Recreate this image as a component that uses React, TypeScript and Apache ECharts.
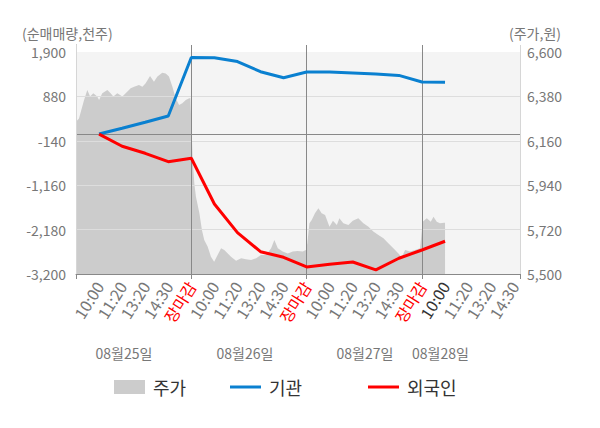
import React, { useEffect, useRef } from 'react';
import * as echarts from 'echarts';

// x-axis tick labels (one per slot, slot 1..19)
const xLabels = [
  '10:00', '11:20', '13:20', '14:30', '장마감',
  '10:00', '11:20', '13:20', '14:30', '장마감',
  '10:00', '11:20', '13:20', '14:30', '장마감',
  '10:00', '11:20', '13:20', '14:30',
];
const currentLabelSlot = 16;
const dayLabels = ['08월25일', '08월26일', '08월27일', '08월28일'];
const leftTicks = [-3200, -2180, -1160, -140, 880, 1900];
const rightTicks = [5500, 5720, 5940, 6160, 6380, 6600];
const xMax = 19.25;

// 기관 / 외국인 net buying (thousand shares) at each slot
const flowSlots = [1, 2, 3, 4, 5, 6, 7, 8, 9, 10, 11, 12, 13, 14, 15, 16];
const instValues = [15, 147, 285, 430, 1775, 1770, 1680, 1448, 1310, 1440, 1438, 1417, 1395, 1362, 1211, 1204];
const foreignValues = [15, -265, -427, -620, -542, -1591, -2250, -2687, -2816, -3039, -2977, -2924, -3107, -2839, -2648, -2448];

// 주가 (price) samples: slot position and price
const priceSlots = [
  0, 0.13, 0.23, 0.35, 0.49, 0.61, 0.75, 0.92, 1.0, 1.14, 1.36, 1.5, 1.62, 1.79, 2.01, 2.22, 2.37, 2.52, 2.73, 2.88,
  3.02, 3.21, 3.38, 3.53, 3.74, 3.89, 4.03, 4.18, 4.32, 4.47, 4.61, 4.76, 4.91, 4.96,
  5.0, 5.06, 5.13, 5.2, 5.35, 5.46, 5.56, 5.71, 5.85, 5.99, 6.14, 6.29, 6.43, 6.58, 6.72, 6.94, 7.16, 7.37, 7.59,
  7.81, 8.02, 8.24, 8.46, 8.6, 8.75, 8.96, 9.18, 9.4, 9.61, 9.83, 9.97,
  10.03, 10.12, 10.22, 10.36, 10.51, 10.65, 10.8, 10.99, 11.14, 11.31, 11.42, 11.59, 11.81, 12.0, 12.24, 12.46,
  12.68, 12.89, 13.11, 13.33, 13.54, 13.76, 13.98, 14.12, 14.27, 14.48, 14.7, 14.92,
  15.03, 15.21, 15.38, 15.5, 15.64, 15.78, 15.96, 16.0,
];
const prices = [
  6255, 6271, 6313, 6362, 6412, 6379, 6395, 6379, 6362, 6395, 6412, 6395, 6379, 6395, 6379, 6403, 6420, 6428, 6436, 6428,
  6445, 6481, 6453, 6478, 6497, 6494, 6478, 6428, 6371, 6337, 6346, 6362, 6371, 6371,
  6250, 6065, 5949, 5883, 5801, 5718, 5668, 5635, 5586, 5561, 5594, 5627, 5619, 5602, 5586, 5566, 5578, 5573, 5569,
  5578, 5594, 5594, 5627, 5668, 5627, 5611, 5602, 5611, 5614, 5611, 5619,
  5652, 5751, 5768, 5801, 5826, 5801, 5792, 5734, 5764, 5743, 5776, 5751, 5743, 5764, 5776, 5751,
  5734, 5710, 5693, 5677, 5652, 5627, 5602, 5583, 5619, 5611, 5619, 5627,
  5759, 5776, 5759, 5784, 5759, 5751, 5754, 5754,
];

const FONT = '"Noto Sans CJK KR", "Noto Sans", sans-serif';

export default function App() {
  const ref = useRef<HTMLDivElement>(null);

  useEffect(() => {
    document.body.style.margin = '0';
    if (!ref.current) return;
    const chart = echarts.init(ref.current, null, { renderer: 'svg' });

    const gridTop = 45;
    const gridBottom = 154;
    const plotTop = 52;
    const plotBottom = 428 - gridBottom;
    const extFrac = (plotTop - gridTop) / (plotBottom - plotTop);

    const lInterval = leftTicks[1] - leftTicks[0];
    const lShift = -leftTicks[0];
    const lSpan = leftTicks[leftTicks.length - 1] - leftTicks[0];
    const lMaxShifted = lSpan + lSpan * extFrac;

    const rInterval = rightTicks[1] - rightTicks[0];
    const rMin = rightTicks[0];
    const rTop = rightTicks[rightTicks.length - 1];
    const rMax = rTop + (rTop - rMin) * extFrac;

    const fmt = (n: number) => Math.round(n).toLocaleString('en-US');

    const areaColors: string[] = [];
    for (let i = 0; i < leftTicks.length; i++) areaColors.push(i < leftTicks.length - 1 ? '#f4f4f4' : '#ffffff');
    const gridLineColors: string[] = [];
    for (let i = 0; i < leftTicks.length + 1; i++) {
      gridLineColors.push(i === 0 ? '#888888' : i < leftTicks.length - 1 ? '#dddddd' : 'rgba(0,0,0,0)');
    }

    const labelStyle = { fontFamily: FONT, fontSize: 14, color: '#777777' };
    const legendText = { fontFamily: FONT, fontSize: 18, color: '#333333', padding: [0, 0, 0, 3] };

    chart.setOption({
      animation: false,
      textStyle: { fontFamily: FONT },
      grid: { left: 76, right: 80, top: gridTop, bottom: gridBottom, outerBoundsMode: 'none' },
      xAxis: [
        {
          type: 'value',
          position: 'bottom',
          min: 0,
          max: xMax,
          interval: 1,
          z: 5,
          axisLine: { show: true, lineStyle: { color: '#888888', width: 1 } },
          axisTick: { show: false },
          splitLine: { show: false },
          axisLabel: {
            ...labelStyle,
            fontSize: 16,
            rotate: 58,
            margin: 9,
            formatter: (v: number) => {
              const i = Math.round(v);
              if (Math.abs(v - i) > 1e-6 || i < 1 || i > xLabels.length) return '';
              return xLabels[i - 1];
            },
            color: (v: any) => {
              const i = Math.round(Number(v));
              if (i >= 1 && i <= xLabels.length && xLabels[i - 1] === '장마감') return '#ff0000';
              if (i === currentLabelSlot) return '#333333';
              return '#777777';
            },
          },
        },
        {
          type: 'value',
          position: 'bottom',
          min: 0,
          max: xMax,
          interval: 5,
          z: 5,
          axisLine: { show: false },
          axisLabel: { show: false },
          axisTick: { show: true, length: 5, lineStyle: { color: '#888888' } },
          splitLine: {
            show: true,
            lineStyle: { color: ['#888888', '#888888', '#888888', '#888888', '#d6d6d6'], width: 1 },
          },
        },
      ],
      yAxis: [
        {
          type: 'value',
          position: 'left',
          min: 0,
          max: lMaxShifted,
          interval: lInterval,
          z: 1,
          axisLine: { show: true, lineStyle: { color: '#888888' } },
          axisTick: { show: false },
          splitLine: { show: false },
          splitArea: { show: true, areaStyle: { color: areaColors } },
          axisLabel: {
            ...labelStyle,
            margin: 10,
            formatter: (v: number) => (v > lSpan + 0.5 ? '' : fmt(v - lShift)),
          },
        },
        {
          type: 'value',
          position: 'right',
          min: rMin,
          max: rMax,
          interval: rInterval,
          z: 5,
          axisLine: { show: true, lineStyle: { color: '#d6d6d6' } },
          axisTick: { show: false },
          splitLine: { show: false },
          axisLabel: {
            ...labelStyle,
            margin: 7,
            formatter: (v: number) => (v > rTop + 0.5 ? '' : fmt(v)),
          },
        },
        {
          type: 'value',
          position: 'left',
          min: 0,
          max: lMaxShifted,
          interval: lInterval,
          z: 5,
          axisLine: { show: false },
          axisTick: { show: false },
          axisLabel: { show: false },
          splitLine: { show: true, lineStyle: { color: gridLineColors, width: 1 } },
        },
      ],
      legend: [
        {
          left: 114, top: 378, padding: 0, itemWidth: 31, itemHeight: 14, itemGap: 0,
          textStyle: legendText,
          data: [{ name: '주가', icon: 'rect', itemStyle: { color: '#cccccc' } }],
        },
        {
          left: 230, top: 378, padding: 0, itemWidth: 31, itemHeight: 3, itemGap: 0,
          textStyle: legendText,
          data: [{ name: '기관', icon: 'rect', itemStyle: { color: '#0a80d0' } }],
        },
        {
          left: 368, top: 378, padding: 0, itemWidth: 31, itemHeight: 3, itemGap: 0,
          textStyle: legendText,
          data: [{ name: '외국인', icon: 'rect', itemStyle: { color: '#ff0000' } }],
        },
      ],
      graphic: [
        { type: 'text', left: 22, top: 26, style: { text: '(순매매량,천주)', fontFamily: FONT, fontSize: 14, fill: '#777777' } },
        { type: 'text', left: 509, top: 26, style: { text: '(주가,원)', fontFamily: FONT, fontSize: 14, fill: '#777777' } },
        ...dayLabels.map((t, i) => ({
          type: 'text',
          x: [124, 245, 365, 440.5][i],
          y: 353,
          style: { text: t, fontFamily: FONT, fontSize: 14, fill: '#777777', align: 'center', verticalAlign: 'middle' },
        })),
      ],
      series: [
        {
          name: '주가',
          type: 'line',
          xAxisIndex: 0,
          yAxisIndex: 1,
          z: 2,
          symbol: 'none',
          color: '#cccccc',
          lineStyle: { width: 0, color: '#cccccc' },
          areaStyle: { color: '#cccccc', opacity: 1, origin: 'start' },
          data: priceSlots.map((x, i) => [x, prices[i]]),
        },
        {
          name: '기관',
          type: 'line',
          xAxisIndex: 0,
          yAxisIndex: 0,
          z: 10,
          symbol: 'none',
          color: '#0a80d0',
          lineStyle: { width: 3, color: '#0a80d0' },
          data: flowSlots.map((x, i) => [x, instValues[i] + lShift]),
          markLine: {
            silent: true,
            symbol: 'none',
            label: { show: false },
            lineStyle: { color: '#888888', width: 1, type: 'solid' },
            data: [{ yAxis: lShift }],
          },
        },
        {
          name: '외국인',
          type: 'line',
          xAxisIndex: 0,
          yAxisIndex: 0,
          z: 10,
          symbol: 'none',
          color: '#ff0000',
          lineStyle: { width: 3, color: '#ff0000' },
          data: flowSlots.map((x, i) => [x, foreignValues[i] + lShift]),
        },
      ],
    });

    return () => chart.dispose();
  }, []);

  return <div ref={ref} style={{ width: 600, height: 428 }} />;
}
